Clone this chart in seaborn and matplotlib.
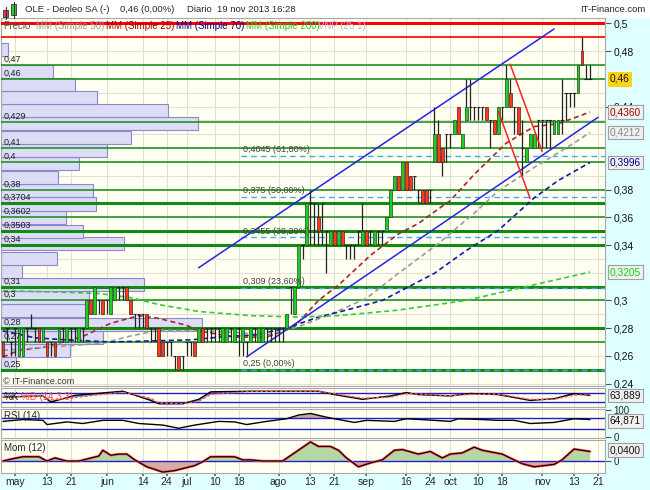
import numpy as np
import pandas as pd
import seaborn as sns
import matplotlib.pyplot as plt
from matplotlib import transforms
from matplotlib.lines import Line2D
from matplotlib.patches import Rectangle
from matplotlib.ticker import MultipleLocator, FixedLocator, FuncFormatter

# daily candles, one per trading day from 26 abr to 19 nov 2013
opens = [.27, .28, .27, .28, .26, .26, .28, .28, .28, .28,
         .27, .27, .27, .27, .27, .28, .27, .28, .28, .27,
         .28, .28, .30, .29, .30, .30, .30, .29, .30, .31,
         .31, .31, .30, .29, .29, .29, .29, .28, .28, .28,
         .27, .27, .27, .26, .26, .26, .27, .27, .27, .27,
         .28, .28, .28, .28, .28, .27, .27, .28, .27, .28,
         .27, .27, .27, .28, .27, .27, .28, .28, .28, .28,
         .28, .28, .31, .29, .31, .34, .34, .37, .37, .36,
         .37, .35, .34, .35, .34, .35, .34, .34, .34, .35,
         .34, .35, .35, .34, .35, .35, .35, .36, .38, .39,
         .38, .40, .39, .39, .38, .38, .38, .38, .40, .42,
         .41, .42, .42, .42, .44, .41, .43, .44, .44, .44,
         .44, .44, .43, .43, .42, .44, .44, .45, .44, .44,
         .41, .40, .41, .41, .43, .43, .43, .43, .42, .42,
         .43, .45, .45, .45, .45, .48, .46, .46]
highs = [.27, .28, .27, .28, .28, .28, .28, .29, .28, .28,
         .28, .27, .27, .27, .28, .28, .28, .28, .28, .28,
         .28, .30, .30, .31, .30, .30, .30, .31, .31, .31,
         .31, .31, .30, .29, .29, .29, .29, .28, .28, .28,
         .27, .27, .27, .26, .26, .26, .27, .27, .27, .28,
         .28, .28, .28, .28, .28, .28, .28, .28, .28, .28,
         .28, .27, .28, .28, .28, .28, .28, .28, .28, .28,
         .28, .29, .31, .31, .34, .34, .37, .38, .37, .37,
         .37, .35, .35, .35, .35, .35, .34, .34, .34, .35,
         .37, .35, .35, .35, .35, .35, .36, .38, .39, .39,
         .40, .40, .39, .39, .38, .38, .38, .38, .44, .43,
         .41, .42, .42, .43, .44, .42, .46, .46, .44, .44,
         .44, .44, .43, .43, .44, .44, .47, .46, .44, .44,
         .43, .41, .42, .42, .43, .43, .43, .43, .43, .43,
         .46, .45, .45, .45, .47, .49, .47, .47]
lows = [.26, .27, .26, .26, .26, .26, .27, .28, .27, .27,
        .27, .26, .26, .26, .27, .27, .27, .27, .27, .27,
        .27, .28, .29, .29, .29, .29, .29, .29, .30, .30,
        .30, .30, .29, .28, .28, .28, .28, .27, .27, .26,
        .26, .26, .26, .25, .25, .25, .26, .26, .26, .27,
        .27, .27, .27, .27, .27, .27, .27, .27, .27, .26,
        .26, .26, .27, .27, .27, .27, .27, .27, .27, .27,
        .27, .28, .29, .29, .31, .33, .34, .34, .34, .34,
        .34, .32, .34, .34, .34, .34, .33, .33, .33, .34,
        .34, .34, .34, .34, .34, .34, .35, .36, .38, .38,
        .38, .38, .38, .38, .37, .37, .37, .37, .40, .40,
        .39, .40, .41, .42, .42, .41, .43, .43, .43, .43,
        .43, .43, .41, .42, .42, .43, .44, .44, .42, .42,
        .39, .40, .41, .41, .41, .41, .41, .41, .42, .42,
        .42, .43, .44, .44, .45, .47, .46, .46]
closes = [.26, .28, .27, .28, .28, .28, .28, .28, .28, .27,
          .28, .26, .27, .26, .28, .28, .28, .28, .28, .28,
          .28, .30, .29, .31, .30, .29, .30, .31, .31, .31,
          .31, .30, .29, .29, .29, .29, .28, .28, .28, .26,
          .26, .27, .27, .26, .25, .26, .27, .27, .26, .28,
          .27, .28, .28, .28, .28, .28, .28, .28, .28, .28,
          .28, .27, .28, .28, .28, .28, .28, .28, .28, .28,
          .28, .29, .31, .31, .34, .34, .37, .37, .37, .35,
          .37, .35, .35, .34, .35, .34, .34, .34, .34, .35,
          .35, .34, .35, .35, .35, .35, .36, .38, .39, .38,
          .40, .38, .38, .39, .38, .37, .37, .38, .42, .40,
          .40, .42, .42, .43, .42, .42, .44, .44, .44, .44,
          .44, .43, .43, .42, .44, .44, .46, .44, .44, .42,
          .41, .41, .42, .42, .43, .43, .43, .43, .43, .43,
          .43, .45, .45, .45, .47, .47, .46, .46]

# volume at price (VNP 25 1)
vp_price = [0.2552, 0.2639, 0.2733, 0.2827, 0.2925, 0.3023, 0.3117, 0.3211,
            0.3305, 0.3410, 0.3501, 0.3598, 0.3696, 0.3790, 0.3884, 0.3986,
            0.4080, 0.4178, 0.4275, 0.4370, 0.4464, 0.4558, 0.4656, 0.4810]
vp_volume = [15, 69, 102, 202, 87, 88, 143, 21, 56, 123, 82, 65,
             95, 92, 57, 78, 106, 130, 198, 168, 96, 74, 52, 7]

# support / resistance and fibonacci levels
levels = [0.47, 0.46, 0.429, 0.41, 0.40, 0.38, 0.3704, 0.3602, 0.3503, 0.34,
          0.31, 0.30, 0.28, 0.27, 0.25]
thick_levels = [0.3704, 0.3503, 0.34, 0.31, 0.28, 0.25]
fib_levels = [0.4045, 0.375, 0.3455, 0.309, 0.25]
fib_labels = ["0,4045 (61,80%)", "0,375 (50,00%)", "0,3455 (38,20%)",
              "0,309 (23,60%)", "0,25 (0,00%)"]
fib_start = "07-19"
red_levels = [0.50, 0.49]

# price scale labels that are not covered by the value boxes
price_ticks = [0.24, 0.26, 0.28, 0.30, 0.34, 0.36, 0.38, 0.44, 0.48, 0.50]

# moving averages
ma25_dates = ["04-26", "05-02", "05-10", "05-24", "06-04", "06-13", "06-20", "07-01",
              "07-04", "07-17", "07-29", "08-07", "08-15", "08-22", "09-03", "09-12",
              "09-19", "09-26", "10-01", "10-09", "10-21", "10-30", "11-07", "11-19"]
ma25_vals = [.259, .264, .266, .274, .2835, .289, .287, .282, .278, .2735, .2735, .281,
             .300, .311, .3325, .348, .3555, .366, .372, .391, .4135, .4255, .4275, .436]
ma50_dates = ["04-26", "05-10", "05-31", "06-10", "06-20", "07-04", "07-17", "07-29",
              "08-08", "08-20", "09-02", "09-12", "09-26", "10-09", "10-17", "10-30",
              "11-11", "11-19"]
ma50_vals = [.264, .266, .269, .2737, .2785, .278, .277, .275, .281, .290, .3015,
             .3195, .341, .363, .379, .396, .410, .4212]
ma70_dates = ["04-26", "05-08", "05-20", "06-04", "07-02", "07-15", "07-24", "08-05",
              "08-15", "08-22", "09-06", "09-25", "10-07", "10-17", "10-30", "11-07", "11-19"]
ma70_vals = [.278, .273, .2715, .270, .2715, .274, .275, .280, .288, .2915, .300,
             .3195, .336, .3505, .374, .3865, .3996]
ma200_dates = ["04-26", "05-16", "05-30", "06-11", "06-20", "07-04", "07-23", "08-08",
               "08-22", "09-12", "10-07", "10-23", "11-19"]
ma200_vals = [.307, .306, .305, .302, .297, .292, .289, .288, .289, .293, .300, .308, .3205]

# drawn trend lines
channel_upper = (["07-04", "11-06"], [0.3236, 0.496])
channel_lower = (["07-22", "11-21"], [0.2592, 0.4322])
red_line_a = (["10-22", "11-01"], [0.4706, 0.4076])
red_line_b = (["10-17", "10-29"], [0.4369, 0.3736])

# indicators
stoch_dates = ["04-26", "05-10", "05-14", "05-22", "06-07", "06-18", "06-20", "06-28",
               "07-04", "07-09", "07-23", "08-15", "08-21", "08-30", "09-10", "09-16",
               "09-19", "10-01", "10-08", "10-17", "10-29", "11-06", "11-13", "11-19"]
stoch_k = [53, 60, 20, 64, 91, 31, 9, 9, 38, 87, 91, 91, 69, 38, 60, 82, 69, 60, 76,
           69, 31, 42, 76, 63.9]
stoch_d = [55, 58, 35, 50, 85, 45, 15, 9, 25, 70, 90, 92, 75, 45, 52, 75, 72, 62, 70,
           72, 38, 38, 66, 68]
rsi_dates = ["04-26", "05-03", "05-10", "05-13", "05-20", "05-24", "05-31", "06-07",
             "06-13", "06-21", "06-27", "06-28", "07-03", "07-11", "07-17", "07-22",
             "07-29", "08-05", "08-08", "08-13", "08-19", "08-21", "08-28", "09-02",
             "09-11", "09-16", "09-25", "10-01", "10-03", "10-11", "10-17", "10-23",
             "10-29", "11-06", "11-13", "11-19"]
rsi_vals = [58, 65, 62, 46, 56, 50, 62, 62, 50, 44, 32, 35, 44, 58, 56, 46, 58, 68,
            82, 88, 74, 68, 54, 62, 58, 68, 62, 58, 68, 65, 62, 62, 50, 54, 68, 64.9]
mom_dates = ["04-26", "04-30", "05-03", "05-09", "05-13", "05-15", "05-20", "05-23",
             "05-30", "05-31", "06-04", "06-06", "06-10", "06-12", "06-17", "06-21",
             "06-26", "07-03", "07-05", "07-09", "07-17", "07-19", "07-23", "07-26",
             "08-02", "08-07", "08-13", "08-15", "08-20", "08-22", "08-26", "08-29",
             "09-03", "09-06", "09-11", "09-13", "09-19", "09-24", "09-27", "10-01",
             "10-04", "10-09", "10-11", "10-18", "10-23", "10-25", "10-30", "11-06",
             "11-08", "11-13", "11-19"]
mom_vals = [0, .008, .018, .018, 0, .013, 0, 0, .021, .045, .024, .029, .029, .005,
            -.024, -.046, -.04, -.019, -.003, .018, .018, .005, .005, 0, 0, .034, .08,
            .061, .061, .045, .013, -.024, -.008, .005, .045, .048, .029, .04, .013,
            .029, .034, .058, .045, .029, .005, -.011, -.024, -.014, .005, .05, .04]

tick_dates = ["05-01", "05-13", "05-21", "06-03", "06-14", "06-24", "07-01", "07-10",
              "07-18", "08-01", "08-13", "08-21", "09-02", "09-16", "09-24", "10-01",
              "10-10", "10-18", "11-01", "11-13", "11-21"]
tick_labels = ["may", "13", "21", "jun", "14", "24", "jul", "10", "18", "ago", "13",
               "21", "sep", "16", "24", "oct", "10", "18", "nov", "13", "21"]


def price_fmt(v, pos=None):
    return f"{v:g}".replace(".", ",")


sns.set_theme(style="white")
plt.rcParams["font.family"] = ["Liberation Sans", "DejaVu Sans"]

W, H = 650, 490
CREAM = "#FFFFF2"
GRID = "#E0E0D6"
SPINE = "#A8A8A8"

days = pd.bdate_range("2013-04-26", "2013-11-22")


def day_pos(ds):
    return days.get_indexer(pd.to_datetime(["2013-" + d for d in ds]))


def panel(top, bottom):
    return [1 / W, 1 - bottom / H, 604 / W, (bottom - top) / H]


def value_box(axis, y, txt, tc="#111111", fc="#F0F0F0", ec="#A0A0A0"):
    tr = transforms.blended_transform_factory(axis.transAxes, axis.transData)
    axis.text(1.008, y, txt, transform=tr, fontsize=7.3, color=tc, ha="left",
              va="center", zorder=30, clip_on=False,
              bbox=dict(boxstyle="square,pad=0.18", fc=fc, ec=ec, lw=0.8))


fig = plt.figure(figsize=(W / 100, H / 100), dpi=100, facecolor="white")
fig.add_artist(Rectangle((605 / W, 0), 45 / W, 1 - 18 / H, transform=fig.transFigure,
                         facecolor="#E0FFFF", edgecolor="none", zorder=-1))
fig.add_artist(Rectangle((0, 0), 1, 16 / H, transform=fig.transFigure,
                         facecolor="#E0FFFF", edgecolor="none", zorder=-1))

# ---- main price panel ----
ax_vp = fig.add_axes(panel(18, 386), facecolor=CREAM)
ax = ax_vp.twiny()
xt = day_pos(tick_dates)
xlim = (-0.5, 150.75)

ax_vp.barh(vp_price, vp_volume, height=0.0094, left=0, color="#DCDCF6",
           edgecolor="#8A8AC8", linewidth=0.8, zorder=2)
ax_vp.set_xlim(0, max(vp_volume) * 3.0)
ax_vp.xaxis.set_visible(False)
blend = transforms.blended_transform_factory(ax.transData, ax_vp.transAxes)
for p in xt:
    ax_vp.add_line(Line2D([p, p], [0, 1], transform=blend, color=GRID, lw=0.8, zorder=1))
ax_vp.yaxis.tick_right()
ax_vp.yaxis.set_major_locator(FixedLocator(price_ticks))
ax_vp.yaxis.set_minor_locator(MultipleLocator(0.01))
ax_vp.yaxis.set_major_formatter(FuncFormatter(price_fmt))
ax_vp.tick_params(axis="y", which="major", labelsize=7.5, length=4, width=0.8,
                  color="#555555", pad=2, labelcolor="#111111")
ax_vp.tick_params(axis="y", which="minor", length=0)
ax_vp.grid(axis="y", which="both", color=GRID, lw=0.8)
ax_vp.set_axisbelow(True)
for s in ax_vp.spines.values():
    s.set_color(SPINE)
    s.set_linewidth(0.8)
for s in ax.spines.values():
    s.set_visible(False)
ax.xaxis.set_visible(False)

for lv in levels:
    ax.axhline(lv, color="#138A13", lw=2.2 if lv in thick_levels else 1.1, zorder=3)
for lv, lw in zip(red_levels, [2.2, 1.2]):
    ax.axhline(lv, color="#FF0000", lw=lw, zorder=3)
fs = day_pos([fib_start])[0]
ax.hlines(fib_levels, fs - 0.5, xlim[1], colors="#3FA9F5", lw=1.0,
          linestyles=(0, (4, 3)), zorder=3)
for lv, lab in zip(fib_levels, fib_labels):
    ax.text(fs, lv + 0.0012, lab, fontsize=6.5, color="#404040", va="bottom",
            ha="left", zorder=8)

lab_tr = transforms.blended_transform_factory(ax.transAxes, ax.transData)
for lv in levels:
    ax.text(0.004, lv + 0.0008, price_fmt(lv), transform=lab_tr, fontsize=6.5,
            color="#202020", va="bottom", ha="left", zorder=8)

ma_specs = [(ma25_dates, ma25_vals, "#A52828"), (ma50_dates, ma50_vals, "#9A9A9A"),
            (ma70_dates, ma70_vals, "#1818A0"), (ma200_dates, ma200_vals, "#33CC33")]
for d, v, col in ma_specs:
    sns.lineplot(x=day_pos(d), y=v, ax=ax, color=col, lw=1.2, linestyle=(0, (3, 2)),
                 legend=False, zorder=4)

for d, v in (channel_upper, channel_lower):
    ax.plot(day_pos(d), v, color="#2424E6", lw=1.1, zorder=4)
for d, v in (red_line_a, red_line_b):
    ax.plot(day_pos(d), v, color="#FF2020", lw=1.1, zorder=7)

x = np.arange(len(closes))
o, h, l, c = (np.array(v) for v in (opens, highs, lows, closes))
up, down, flat = c > o, c < o, c == o
ax.vlines(x, l, h, color="#222222", lw=0.9, zorder=5)
ax.hlines(o[flat], x[flat] - 0.4, x[flat] + 0.4, color="#222222", lw=0.8, zorder=5)
ax.bar(x[up], (c - o)[up], bottom=o[up], width=0.7, color="#22CC22",
       edgecolor="#1E4E1E", linewidth=0.5, zorder=6)
ax.bar(x[down], (o - c)[down], bottom=c[down], width=0.7, color="#FF3A1A",
       edgecolor="#4E1E1E", linewidth=0.5, zorder=6)
ax.set_xlabel("")
ax.set_ylabel("")

value_box(ax, closes[-1], price_fmt(closes[-1]), fc="#FFD21A", ec="#FFD21A")
value_box(ax, ma25_vals[-1], f"{ma25_vals[-1]:.4f}".replace(".", ","), tc="#A00000")
value_box(ax, ma50_vals[-1], f"{ma50_vals[-1]:.4f}".replace(".", ","), tc="#888888")
value_box(ax, ma70_vals[-1], f"{ma70_vals[-1]:.4f}".replace(".", ","), tc="#00008C")
value_box(ax, ma200_vals[-1], f"{ma200_vals[-1]:.4f}".replace(".", ","), tc="#10D010")


# ---- sub panels ----
def sub_panel(top, bottom, ylim):
    a = fig.add_axes(panel(top, bottom), sharex=ax, facecolor=CREAM)
    a.set_ylim(*ylim)
    a.grid(axis="x", color=GRID, lw=0.8)
    a.set_axisbelow(True)
    for s in a.spines.values():
        s.set_color(SPINE)
        s.set_linewidth(0.8)
    a.yaxis.tick_right()
    a.tick_params(axis="y", labelsize=7, length=4, width=0.8, color="#555555", pad=2)
    a.tick_params(axis="x", bottom=False, labelbottom=False)
    return a


ax_s = sub_panel(388, 407, (-12, 112))
sx = day_pos(stoch_dates)
k, d = np.array(stoch_k), np.array(stoch_d)
ax_s.axhline(80, color="#2020C8", lw=1)
ax_s.axhline(20, color="#2020C8", lw=1)
ax_s.fill_between(sx, k, d, where=k >= d, interpolate=True, color="#9090F0", lw=0)
ax_s.fill_between(sx, k, d, where=k < d, interpolate=True, color="#F0A0A0", lw=0)
sns.lineplot(x=sx, y=k, ax=ax_s, color="black", lw=1, legend=False)
sns.lineplot(x=sx, y=d, ax=ax_s, color="#FF5A5A", lw=1, linestyle=(0, (2, 1.5)), legend=False)
ax_s.set_yticks([])
ax_s.text(0.005, 0.5, "%K", transform=ax_s.transAxes, fontsize=7, color="#202020", va="center")
ax_s.text(0.033, 0.5, "%D (14 3 3)", transform=ax_s.transAxes, fontsize=7, color="#F05050", va="center")
value_box(ax_s, 63.889, "63,889")

ax_r = sub_panel(409, 438, (-5, 105))
rx = day_pos(rsi_dates)
rv = np.array(rsi_vals)
ax_r.axhline(70, color="#2020C8", lw=1)
ax_r.axhline(30, color="#2020C8", lw=1)
ax_r.fill_between(rx, rv, 70, where=rv > 70, interpolate=True, color="#D4A4A4", lw=0)
sns.lineplot(x=rx, y=rv, ax=ax_r, color="black", lw=1, legend=False)
ax_r.set_yticks([0, 100], ["0", "100"])
ax_r.text(0.005, 0.93, "RSI (14)", transform=ax_r.transAxes, fontsize=7, va="top")
value_box(ax_r, 60, "64,871")

ax_m = sub_panel(440, 473, (-0.05, 0.088))
mx = day_pos(mom_dates)
mv = np.array(mom_vals)
ax_m.fill_between(mx, mv, 0, where=mv >= 0, interpolate=True, color="#B4D8A4", lw=0)
ax_m.fill_between(mx, mv, 0, where=mv < 0, interpolate=True, color="#D8AAAA", lw=0)
ax_m.axhline(0, color="#2020C8", lw=1)
sns.lineplot(x=mx, y=mv, ax=ax_m, color="#FF5050", lw=1.8, legend=False)
sns.lineplot(x=mx, y=mv, ax=ax_m, color="black", lw=0.8, legend=False)
ax_m.set_yticks([0], ["0"])
ax_m.text(0.005, 0.9, "Mom (12)", transform=ax_m.transAxes, fontsize=7, va="top")
value_box(ax_m, 0.045, "0,0400")
ax_m.set_xticks(xt, tick_labels)
ax_m.tick_params(axis="x", bottom=True, labelbottom=True, labelsize=7.5, length=2,
                 color="#666666", pad=1)
for a in (ax_s, ax_r, ax_m):
    a.set_xlabel("")
    a.set_ylabel("")

ax.set_xlim(*xlim)
ax.set_ylim(0.2382, 0.5039)

# ---- header, legend ----
ty = 1 - 10 / H
fig.text(25 / W, ty, "OLE - Deoleo SA (-)", fontsize=6.8, va="center")
fig.text(120 / W, ty, "0,46 (0,00%)", fontsize=6.8, va="center")
fig.text(187 / W, ty, "Diario  19 nov 2013 16:28", fontsize=6.8, va="center")
fig.text(645 / W, ty, "IT-Finance.com", fontsize=6.8, va="center", ha="right")
fig.add_artist(Line2D([5.5 / W] * 2, [1 - 7 / H, 1 - 19 / H], transform=fig.transFigure, color="#333333", lw=0.8))
fig.add_artist(Rectangle((3 / W, 1 - 17 / H), 5 / W, 7 / H, transform=fig.transFigure,
                         fc="#E04040", ec="#333333", lw=0.6))
fig.add_artist(Line2D([13.5 / W] * 2, [1 - 2 / H, 1 - 18 / H], transform=fig.transFigure, color="#333333", lw=0.8))
fig.add_artist(Rectangle((11 / W, 1 - 15 / H), 5 / W, 11 / H, transform=fig.transFigure,
                         fc="#30D030", ec="#333333", lw=0.6))

ly = 1 - 26 / H
for px, txt, col in [(3, "Precio", "#555555"), (36, "MM (Simple 50)", "#999999"),
                     (106, "MM (Simple 25)", "#A00000"), (176, "MM (Simple 70)", "#000099"),
                     (246, "MM (Simple 200)", "#22CC22"), (318, "VNP (25 1)", "#B8B8E8")]:
    fig.text(px / W, ly, txt, fontsize=7, color=col, va="center", zorder=10)
fig.text(3 / W, 1 - 381 / H, "© IT-Finance.com", fontsize=6.5, color="#333333", va="center", zorder=10)

fig.savefig("out.png", dpi=100)
